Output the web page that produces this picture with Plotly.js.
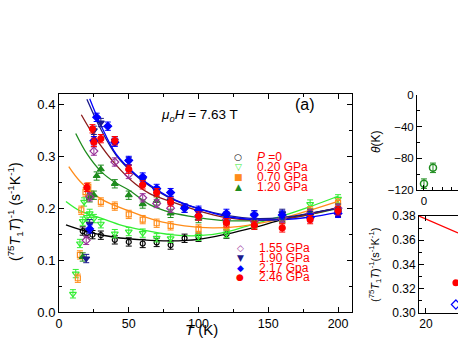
<!DOCTYPE html>
<html>
<head>
<meta charset="utf-8">
<script src="https://cdn.plot.ly/plotly-3.0.1.min.js"></script>
<style>
  html, body { margin: 0; padding: 0; background: #fff; }
  #plot { width: 458px; height: 338px; }
</style>
</head>
<body>
<div id="plot"></div>
<script>
const pressures = ["P=0", "0.20 GPa", "0.70 GPa", "1.20 GPa", "1.55 GPa", "1.90 GPa", "2.17 Gpa", "2.46 GPa"];

const tP0 = [17, 20, 24, 30, 40, 50, 60, 70, 80, 90, 100, 120, 140, 160, 180, 200];
const vP0 = [0.156, 0.152, 0.149, 0.148, 0.139, 0.135, 0.132, 0.134, 0.129, 0.142, 0.144, 0.150, 0.168, 0.180, 0.190, 0.200];

const tP020 = [10, 12, 15, 17, 18, 20, 22, 25, 30, 40, 50, 60, 70, 80, 100, 120, 140, 160, 180, 200];
const vP020 = [0.035, 0.074, 0.132, 0.175, 0.212, 0.183, 0.190, 0.180, 0.170, 0.151, 0.155, 0.152, 0.143, 0.142, 0.146, 0.151, 0.170, 0.185, 0.208, 0.218];

const tP070 = [13.5, 15, 16, 19, 21, 23, 30, 40, 50, 60, 70, 80, 100, 120, 140, 160, 180, 200];
const vP070 = [0.065, 0.110, 0.196, 0.231, 0.241, 0.225, 0.212, 0.204, 0.188, 0.178, 0.171, 0.166, 0.160, 0.166, 0.170, 0.178, 0.195, 0.210];

const tP120 = [17, 22, 25, 27, 30, 40, 50, 60, 70, 80, 100, 120, 140, 160, 180, 200];
const vP120 = [0.106, 0.220, 0.225, 0.262, 0.275, 0.247, 0.225, 0.208, 0.214, 0.190, 0.180, 0.176, 0.178, 0.182, 0.190, 0.200];

const tP155 = [19.5, 22, 25, 40, 50, 60, 70, 80, 100, 120, 140, 160, 180, 200];
const vP155 = [0.138, 0.222, 0.310, 0.289, 0.265, 0.220, 0.209, 0.200, 0.185, 0.178, 0.175, 0.180, 0.190, 0.200];

const tP190 = [19.5, 22, 25, 30, 40, 50, 60, 70, 80, 90, 100, 120, 140, 160, 180, 200];
const vP190 = [0.103, 0.170, 0.350, 0.365, 0.330, 0.290, 0.255, 0.233, 0.215, 0.200, 0.193, 0.185, 0.187, 0.190, 0.186, 0.192];

const tP217 = [22, 25, 27, 35, 40, 50, 60, 70, 80, 90, 100, 120, 140, 160, 180, 200];
const vP217 = [0.160, 0.330, 0.375, 0.358, 0.327, 0.292, 0.260, 0.238, 0.230, 0.200, 0.196, 0.190, 0.187, 0.187, 0.182, 0.190];

const tP246 = [20, 24, 25, 30, 40, 50, 60, 70, 80, 100, 120, 140, 160, 180, 200];
const vP246 = [0.240, 0.353, 0.327, 0.334, 0.330, 0.275, 0.245, 0.230, 0.212, 0.185, 0.172, 0.167, 0.162, 0.178, 0.195];

// fit curves
const fitT0 = [5, 20, 40, 60, 80, 100, 120, 140, 160, 180, 200];
const fitV0 = [0.168, 0.155, 0.144, 0.139, 0.137, 0.140, 0.150, 0.163, 0.178, 0.190, 0.200];
const fitT020 = [5, 15, 30, 45, 60, 80, 100, 120, 140, 160, 180, 200];
const fitV020 = [0.213, 0.195, 0.181, 0.167, 0.158, 0.149, 0.147, 0.154, 0.170, 0.185, 0.203, 0.223];
const fitT070 = [7, 15, 30, 50, 70, 90, 110, 130, 150, 170, 200];
const fitV070 = [0.280, 0.252, 0.218, 0.195, 0.176, 0.166, 0.162, 0.165, 0.174, 0.188, 0.213];
const fitT120 = [12, 20, 30, 40, 50, 65, 80, 100, 120, 140, 160, 180, 200];
const fitV120 = [0.344, 0.305, 0.271, 0.250, 0.235, 0.207, 0.192, 0.182, 0.176, 0.176, 0.179, 0.188, 0.199];
const fitT155 = [16, 25, 41, 55, 65, 80, 100, 120, 140, 160, 180, 200];
const fitV155 = [0.380, 0.340, 0.283, 0.246, 0.228, 0.213, 0.195, 0.182, 0.177, 0.179, 0.188, 0.201];
const fitT190 = [20, 30, 41, 55, 65, 80, 100, 120, 140, 160, 180, 200];
const fitV190 = [0.410, 0.352, 0.302, 0.263, 0.243, 0.219, 0.199, 0.186, 0.180, 0.182, 0.190, 0.200];
const fitT217 = [22, 30, 41, 55, 65, 80, 100, 120, 140, 160, 180, 200];
const fitV217 = [0.411, 0.360, 0.304, 0.265, 0.245, 0.220, 0.199, 0.184, 0.178, 0.178, 0.183, 0.192];

// inset: Weiss temperature vs pressure
const thetaP = [0, 0.2];
const thetaV = [-112, -92];

// inset: low-T zoom
const zoomLineT = [19, 24.6];
const zoomLineV = [0.380, 0.366];
const zoomRedT = [24.3];
const zoomRedV = [0.325];
const zoomBlueT = [24.3];
const zoomBlueV = [0.307];

const FONT = "Liberation Sans, Arial, sans-serif";
const W = 458, H = 338, ML = 59, MT = 94, MB = 25;
const PW = W - ML, PH = H - MT - MB;
const px = (x) => (x - ML) / PW;      // page pixel -> paper coords
const py = (y) => (H - MB - y) / PH;

function pts(t, v, color, symbol, size) {
  return {
    type: "scatter", mode: "markers", x: t, y: v,
    marker: { color: color, symbol: symbol, size: size || 6, line: { color: color, width: 1.2 } },
    error_y: { type: "constant", value: 0.008, color: color, thickness: 1, width: 3 },
    showlegend: false,
  };
}
function fit(t, v, color) {
  return {
    type: "scatter", mode: "lines", x: t, y: v,
    line: { color: color, width: 1.3, shape: "spline", smoothing: 1 },
    showlegend: false, hoverinfo: "skip",
  };
}

var data = [
  fit(fitT0, fitV0, "#000000"),
  fit(fitT020, fitV020, "#33ee33"),
  fit(fitT070, fitV070, "#ff8c1a"),
  fit(fitT120, fitV120, "#1e8c1e"),
  fit(fitT155, fitV155, "#8b1a1a"),
  fit(fitT190, fitV190, "#1a1a8c"),
  fit(fitT217, fitV217, "#0000ff"),
  pts(tP0, vP0, "#000000", "circle-open", 5),
  pts(tP020, vP020, "#33ee33", "triangle-down-open", 6),
  pts(tP070, vP070, "#ff8c1a", "square-open", 5),
  pts(tP120, vP120, "#1e8c1e", "triangle-up", 6),
  pts(tP155, vP155, "#993399", "diamond-open", 6),
  pts(tP190, vP190, "#1a1a8c", "triangle-down", 6),
  pts(tP217, vP217, "#0000ff", "diamond", 6),
  pts(tP246, vP246, "#ff0000", "circle", 6),
  {
    type: "scatter", mode: "markers", x: thetaP, y: thetaV, xaxis: "x2", yaxis: "y2",
    marker: { color: "#1e8c1e", symbol: "circle-open", size: 7, line: { width: 1.5 } },
    error_y: { type: "constant", value: 6, color: "#1e8c1e", thickness: 1, width: 3 },
    showlegend: false,
  },
  {
    type: "scatter", mode: "lines", x: zoomLineT, y: zoomLineV, xaxis: "x3", yaxis: "y3",
    line: { color: "#ff0000", width: 1.2 }, showlegend: false,
  },
  {
    type: "scatter", mode: "markers", x: zoomRedT, y: zoomRedV, xaxis: "x3", yaxis: "y3",
    marker: { color: "#ff0000", symbol: "circle", size: 7 }, showlegend: false, cliponaxis: false,
  },
  {
    type: "scatter", mode: "markers", x: zoomBlueT, y: zoomBlueV, xaxis: "x3", yaxis: "y3",
    marker: { color: "#0000ff", symbol: "diamond-open", size: 7, line: { width: 1.2 } }, showlegend: false, cliponaxis: false,
  },
];

const axisBase = {
  showgrid: false, zeroline: false, showline: true, linecolor: "#000", linewidth: 1,
  ticks: "inside", ticklen: 5, tickcolor: "#000", mirror: "ticks",
  tickfont: { family: FONT, size: 13, color: "#000" },
};

const symCol = [
  ["\u25CB", "#000000"], ["\u25BD", "#33ee33"], ["\u25A0", "#ff8c1a"], ["\u25B2", "#1e8c1e"],
  ["\u25C7", "#993399"], ["\u25BC", "#1a1a8c"], ["\u25C6", "#0000ff"], ["\u25CF", "#ff0000"],
];
const legendY = [157, 167, 177, 187, 248, 258, 268, 277];
const legendX = [238, 238, 238, 238, 240, 240, 240, 240];

var annotations = [];
pressures.forEach(function (p, i) {
  const label = i === 0 ? "<i>P</i> =0" : p;
  annotations.push({
    xref: "paper", yref: "paper", x: px(legendX[i]), y: py(legendY[i]),
    text: symCol[i][0], showarrow: false, xanchor: "center", yanchor: "middle",
    font: { family: "DejaVu Sans", size: 9, color: symCol[i][1] },
  });
  annotations.push({
    xref: "paper", yref: "paper", x: px(legendX[i] + 17), y: py(legendY[i]),
    text: label, showarrow: false, xanchor: "left", yanchor: "middle",
    font: { family: FONT, size: 12, color: "#ff0000" },
  });
});
annotations.push(
  {
    xref: "paper", yref: "paper", x: px(159), y: py(115),
    text: "<i>\u03BC<sub>o</sub>H</i> = 7.63 T", showarrow: false, xanchor: "left", yanchor: "middle",
    font: { family: FONT, size: 13.5, color: "#000" },
  },
  {
    xref: "paper", yref: "paper", x: px(293), y: py(104),
    text: "(a)", showarrow: false, xanchor: "left", yanchor: "middle",
    font: { family: FONT, size: 16, color: "#000" },
  },
  {
    xref: "paper", yref: "paper", x: px(201), y: py(329),
    text: "<i>T</i> (K)", showarrow: false, xanchor: "center", yanchor: "middle",
    font: { family: FONT, size: 15, color: "#000" },
  },
  {
    xref: "paper", yref: "paper", x: px(15), y: py(212), textangle: -90,
    text: "(<sup>75</sup><i>T</i><sub>1</sub><i>T</i>)<sup>-1</sup> (s<sup>-1</sup>K<sup>-1</sup>)",
    showarrow: false, xanchor: "center", yanchor: "middle",
    font: { family: FONT, size: 14, color: "#000" },
  },
  {
    xref: "paper", yref: "paper", x: px(376), y: py(142), textangle: -90,
    text: "<i>\u03B8</i>(K)", showarrow: false, xanchor: "center", yanchor: "middle",
    font: { family: FONT, size: 12, color: "#000" },
  },
  {
    xref: "paper", yref: "paper", x: px(375), y: py(265), textangle: -90,
    text: "(<sup>75</sup><i>T</i><sub>1</sub><i>T</i>)<sup>-1</sup>(s<sup>-1</sup>K<sup>-1</sup>)",
    showarrow: false, xanchor: "center", yanchor: "middle",
    font: { family: FONT, size: 11, color: "#000" },
  }
);

var layout = {
  width: W, height: H,
  margin: { l: ML, r: 0, t: MT, b: MB },
  paper_bgcolor: "#fff", plot_bgcolor: "#fff",
  showlegend: false,
  font: { family: FONT, color: "#000" },
  xaxis: Object.assign({}, axisBase, {
    domain: [0, px(352)], range: [0, 210], dtick: 50, tick0: 0,
    tickfont: { family: FONT, size: 12.5, color: "#000" },
    minor: { dtick: 25, ticks: "inside", ticklen: 3, tickcolor: "#000" },
    anchor: "y",
  }),
  yaxis: Object.assign({}, axisBase, {
    domain: [py(312), 1], range: [0, 0.42], dtick: 0.1, tick0: 0, tickformat: ".1f",
    minor: { dtick: 0.05, ticks: "inside", ticklen: 3, tickcolor: "#000" },
    anchor: "x",
  }),
  xaxis2: Object.assign({}, axisBase, {
    domain: [px(417), 1], range: [-0.155, 0.755], dtick: 1, tick0: 0, mirror: false,
    minor: { dtick: 0.2, ticks: "inside", ticklen: 3, tickcolor: "#000" },
    tickfont: { family: FONT, size: 11.5, color: "#000" },
    anchor: "y2",
  }),
  yaxis2: Object.assign({}, axisBase, {
    domain: [py(190), py(95)], range: [-120, 0], dtick: 40, mirror: false,
    minor: { dtick: 20, ticks: "inside", ticklen: 3, tickcolor: "#000" },
    tickfont: { family: FONT, size: 11.5, color: "#000" },
    anchor: "x2",
  }),
  xaxis3: Object.assign({}, axisBase, {
    domain: [px(419), 1], range: [19, 24.6], dtick: 5, tick0: 0, mirror: "ticks",
    tickfont: { family: FONT, size: 12, color: "#000" },
    anchor: "y3",
  }),
  yaxis3: Object.assign({}, axisBase, {
    domain: [0, py(216)], range: [0.30, 0.38], dtick: 0.02, tickformat: ".2f", mirror: false,
    minor: { dtick: 0.01, ticks: "inside", ticklen: 3, tickcolor: "#000" },
    tickfont: { family: FONT, size: 12, color: "#000" },
    anchor: "x3",
  }),
  annotations: annotations,
};

Plotly.newPlot("plot", data, layout, { displayModeBar: false, staticPlot: true });
</script>
</body>
</html>
